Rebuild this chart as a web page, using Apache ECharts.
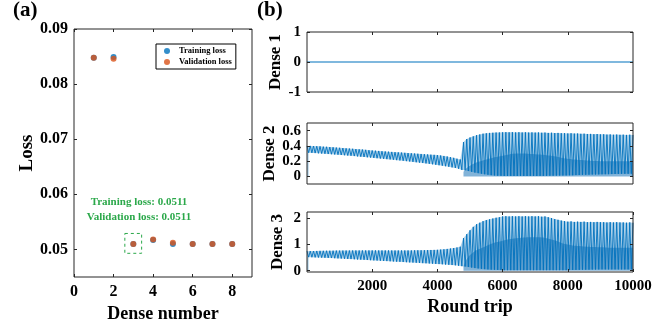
<!DOCTYPE html>
<html>
<head>
<meta charset="utf-8">
<script src="https://cdn.jsdelivr.net/npm/echarts@6/dist/echarts.min.js"></script>
<style>
  html, body { margin: 0; padding: 0; background: #fff; }
  #main { width: 666px; height: 328px; }
</style>
</head>
<body>
<div id="main"></div>
<script>
// (a) loss vs dense number
var denseNumbers = [1, 2, 3, 4, 5, 6, 7, 8];
var trainingLoss = [0.0848, 0.0849, 0.0510, 0.0517, 0.0510, 0.0510, 0.0510, 0.0510];
var validationLoss = [0.0848, 0.0846, 0.0510, 0.0518, 0.0512, 0.0510, 0.0510, 0.0510];
var lossTicks = [0.05, 0.06, 0.07, 0.08, 0.09];
var denseTicks = [0, 2, 4, 6, 8];

// (b) dense outputs vs round trip
var sampleStep = 100; // peak every 100 round trips, trough half way between
var roundTripTicks = [2000, 4000, 6000, 8000, 10000];
var dense1RoundTrips = [0, 10000];
var dense1Values = [0, 0];
var dense1Ticks = [-1, 0, 1];
var dense2Ticks = [0, 0.2, 0.4, 0.6];
var dense3Ticks = [0, 1, 2];

var dense2Peaks = [
  0.40, 0.40, 0.398, 0.396, 0.394, 0.39, 0.388, 0.385, 0.382, 0.378,
  0.375, 0.372, 0.368, 0.365, 0.362, 0.358, 0.355, 0.352, 0.348, 0.344,
  0.34, 0.337, 0.334, 0.33, 0.327, 0.324, 0.321, 0.318, 0.315, 0.312,
  0.309, 0.306, 0.303, 0.30, 0.297, 0.294, 0.291, 0.288, 0.285, 0.282,
  0.279, 0.274, 0.268, 0.261, 0.252, 0.243, 0.232, 0.222, 0.45, 0.49,
  0.51, 0.525, 0.54, 0.55, 0.56, 0.565, 0.57, 0.572, 0.575, 0.576,
  0.578, 0.58, 0.578, 0.58, 0.577, 0.579, 0.576, 0.578, 0.575, 0.577,
  0.574, 0.576, 0.572, 0.574, 0.57, 0.572, 0.568, 0.57, 0.566, 0.567,
  0.563, 0.565, 0.561, 0.562, 0.558, 0.56, 0.556, 0.557, 0.553, 0.555,
  0.551, 0.552, 0.548, 0.55, 0.546, 0.548, 0.545, 0.547, 0.544, 0.546,
  0.543
];
var dense2Troughs = [
  0.31, 0.308, 0.305, 0.302, 0.299, 0.296, 0.293, 0.29, 0.287, 0.284,
  0.28, 0.277, 0.273, 0.27, 0.266, 0.262, 0.258, 0.254, 0.25, 0.246,
  0.242, 0.238, 0.234, 0.23, 0.226, 0.222, 0.218, 0.213, 0.209, 0.204,
  0.20, 0.195, 0.19, 0.185, 0.18, 0.175, 0.17, 0.164, 0.158, 0.152,
  0.146, 0.14, 0.133, 0.126, 0.118, 0.11, 0.10, 0.085, 0.08, 0.07,
  0.06, 0.05, 0.042, 0.035, 0.028, 0.022, 0.016, 0.012, 0.009, 0.007,
  0.005, 0.005, 0.005, 0.005, 0.005, 0.005, 0.005, 0.005, 0.005, 0.005,
  0.005, 0.006, 0.006, 0.007, 0.008, 0.009, 0.01, 0.011, 0.012, 0.013,
  0.014, 0.015, 0.017, 0.018, 0.02, 0.021, 0.022, 0.024, 0.025, 0.026,
  0.027, 0.028, 0.029, 0.03, 0.031, 0.032, 0.033, 0.033, 0.034, 0.035
];
var dense3Peaks = [
  0.75, 0.752, 0.755, 0.757, 0.76, 0.762, 0.764, 0.766, 0.768, 0.77,
  0.77, 0.772, 0.773, 0.774, 0.775, 0.776, 0.776, 0.777, 0.777, 0.778,
  0.778, 0.778, 0.777, 0.777, 0.776, 0.776, 0.776, 0.775, 0.775, 0.776,
  0.776, 0.777, 0.778, 0.78, 0.782, 0.784, 0.787, 0.79, 0.794, 0.798,
  0.80, 0.81, 0.82, 0.835, 0.85, 0.87, 0.89, 0.92, 1.25, 1.40,
  1.55, 1.68, 1.78, 1.84, 1.90, 1.94, 1.97, 2.0, 2.03, 2.05,
  2.08, 2.09, 2.08, 2.09, 2.08, 2.09, 2.08, 2.09, 2.08, 2.09,
  2.08, 2.09, 2.07, 2.08, 2.05, 2.02, 1.98, 1.95, 1.92, 1.90,
  1.88, 1.89, 1.87, 1.88, 1.87, 1.88, 1.86, 1.87, 1.86, 1.87,
  1.86, 1.86, 1.85, 1.86, 1.85, 1.86, 1.85, 1.85, 1.84, 1.85,
  1.84
];
var dense3Troughs = [
  0.52, 0.515, 0.51, 0.505, 0.50, 0.495, 0.49, 0.485, 0.478, 0.472,
  0.465, 0.458, 0.451, 0.444, 0.437, 0.43, 0.423, 0.416, 0.409, 0.402,
  0.395, 0.388, 0.381, 0.374, 0.367, 0.36, 0.353, 0.346, 0.339, 0.332,
  0.325, 0.318, 0.311, 0.304, 0.297, 0.29, 0.283, 0.276, 0.268, 0.26,
  0.252, 0.244, 0.235, 0.226, 0.216, 0.205, 0.19, 0.175, 0.16, 0.14,
  0.12, 0.10, 0.085, 0.07, 0.06, 0.05, 0.04, 0.035, 0.03, 0.025,
  0.02, 0.02, 0.02, 0.02, 0.02, 0.02, 0.02, 0.02, 0.02, 0.02,
  0.02, 0.02, 0.02, 0.02, 0.02, 0.02, 0.02, 0.02, 0.02, 0.02,
  0.025, 0.027, 0.03, 0.032, 0.035, 0.037, 0.04, 0.042, 0.045, 0.047,
  0.05, 0.05, 0.05, 0.05, 0.05, 0.05, 0.05, 0.05, 0.05, 0.05
];
// top of the darker, denser core after the jump
var coreRoundTrips = [4800, 5000, 5500, 6000, 6500, 7000, 7500, 8000, 8500, 9000, 9500, 10000];
var dense2CoreTops = [0.06, 0.14, 0.22, 0.27, 0.30, 0.29, 0.27, 0.23, 0.21, 0.20, 0.20, 0.20];
var dense3CoreTops = [0.15, 0.6, 0.95, 1.15, 1.25, 1.28, 1.2, 1.0, 0.93, 0.9, 0.88, 0.88];

var blue = "#0072BD";
var orange = "#D95319";
var green = "#2BA84A";
var axisColor = "#262626";
var serif = "'Liberation Serif', 'Times New Roman', serif";

function peakPoints(peaks) {
  return peaks.map(function(p, i) { return [i * sampleStep, p]; });
}
function troughPoints(troughs) {
  return troughs.map(function(t, i) { return [i * sampleStep + sampleStep / 2, t]; });
}
function zigzag(peaks, troughs) {
  var out = [];
  for (var i = 0; i < peaks.length; i++) {
    out.push([i * sampleStep, peaks[i]]);
    if (i < troughs.length) out.push([i * sampleStep + sampleStep / 2, troughs[i]]);
  }
  return out;
}
function pairXY(xs, ys) {
  return xs.map(function(x, i) { return [x, ys[i]]; });
}

// one visible axis plus a mirrored one (ticks only) for the MATLAB box look
function xAxes(gridIndex, min, max, ticks, fontSize, labelsOn, name, nameGap) {
  var base = {
    type: "value", gridIndex: gridIndex, min: min, max: max, z: 10,
    splitLine: { show: false }, axisLine: { show: false, onZero: false },
    axisTick: { show: true, inside: true, length: 3, customValues: ticks,
      lineStyle: { color: axisColor } }
  };
  var bottom = Object.assign({}, base, {
    position: "bottom",
    axisLabel: { show: labelsOn, customValues: ticks, margin: 7, color: "#000",
      formatter: function(v) { return String(v); },
      fontFamily: serif, fontWeight: "bold", fontSize: fontSize },
    name: name || "", nameLocation: "middle", nameGap: nameGap || 0,
    nameTextStyle: { fontFamily: serif, fontWeight: "bold", fontSize: 18, color: "#000" }
  });
  var top = Object.assign({}, base, { position: "top", axisLabel: { show: false } });
  return [bottom, top];
}

function yAxes(gridIndex, min, max, ticks, fontSize, fmt, name, nameGap, nameSize) {
  var base = {
    type: "value", gridIndex: gridIndex, min: min, max: max, z: 10,
    splitLine: { show: false }, axisLine: { show: false, onZero: false },
    axisTick: { show: true, inside: true, length: 3, customValues: ticks,
      lineStyle: { color: axisColor } }
  };
  var left = Object.assign({}, base, {
    position: "left",
    axisLabel: { customValues: ticks, margin: 6, color: "#000", formatter: fmt,
      fontFamily: serif, fontWeight: "bold", fontSize: fontSize },
    name: name, nameLocation: "middle", nameGap: nameGap, nameRotate: 90,
    nameTextStyle: { fontFamily: serif, fontWeight: "bold", fontSize: nameSize, color: "#000" }
  });
  var right = Object.assign({}, base, { position: "right", axisLabel: { show: false } });
  return [left, right];
}

// band look for the oscillating traces: light fill between the envelopes,
// darker core, and the zigzag itself on top
function denseSeries(axisIndex, peaks, troughs, coreTops) {
  return [
    {
      type: "line", xAxisIndex: axisIndex, yAxisIndex: axisIndex, showSymbol: false, z: 1,
      lineStyle: { width: 0 }, areaStyle: { color: "rgba(0,114,189,0.45)", origin: 0 },
      data: peakPoints(peaks)
    },
    {
      type: "line", xAxisIndex: axisIndex, yAxisIndex: axisIndex, showSymbol: false, z: 2,
      lineStyle: { width: 0 }, areaStyle: { color: "#fff", opacity: 1, origin: "start" },
      data: troughPoints(troughs)
    },
    {
      type: "line", xAxisIndex: axisIndex, yAxisIndex: axisIndex, showSymbol: false, z: 3,
      smooth: true, lineStyle: { width: 0 }, areaStyle: { color: "rgba(0,100,175,0.7)", origin: 0 },
      data: pairXY(coreRoundTrips, coreTops)
    },
    {
      type: "line", xAxisIndex: axisIndex, yAxisIndex: axisIndex, showSymbol: false, z: 4,
      lineStyle: { color: blue, width: 0.9 },
      data: zigzag(peaks, troughs)
    }
  ];
}

var gridBox = { show: true, z: 10, borderColor: axisColor, borderWidth: 1, backgroundColor: "transparent" };

var myChart = echarts.init(document.getElementById("main"));
var option = {
  animation: false,
  grid: [
    Object.assign({ left: 74, top: 29, width: 178, height: 248 }, gridBox),
    Object.assign({ left: 307, top: 32, width: 326, height: 60 }, gridBox),
    Object.assign({ left: 307, top: 123, width: 326, height: 61 }, gridBox),
    Object.assign({ left: 307, top: 212, width: 326, height: 60 }, gridBox)
  ],
  xAxis: [].concat(
    xAxes(0, 0, 9, denseTicks, 16, true, "Dense number", 27),
    xAxes(1, 0, 10000, [2000, 4000, 6000, 8000], 15, false),
    xAxes(2, 0, 10000, [2000, 4000, 6000, 8000], 15, false),
    xAxes(3, 0, 10000, roundTripTicks, 15, true, "Round trip", 26)
  ),
  yAxis: [].concat(
    yAxes(0, 0.045, 0.09, lossTicks, 16, function(v) { return v.toFixed(2); }, "Loss", 31, 19),
    yAxes(1, -1, 1, dense1Ticks, 15, null, "Dense 1", 21, 17),
    yAxes(2, -0.1, 0.7, dense2Ticks, 15, function(v) { return v === 0 ? "0" : v.toFixed(1); }, "Dense 2", 21, 17),
    yAxes(3, -0.05, 2.25, dense3Ticks, 15, null, "Dense 3", 21, 17)
  ),
  legend: {
    data: ["Training loss", "Validation loss"],
    orient: "vertical",
    left: 156, top: 44,
    icon: "circle",
    itemWidth: 6, itemHeight: 6, itemGap: 1,
    padding: [2, 4, 2, 8],
    borderColor: "#000", borderWidth: 1, backgroundColor: "#fff",
    textStyle: { fontFamily: serif, fontWeight: "bold", fontSize: 8.5, color: "#000",
      padding: [0, 0, 0, 4], lineHeight: 10 }
  },
  graphic: [
    { type: "text", left: 13, top: 0, style: { text: "(a)", font: "bold 21px " + serif, fill: "#000" } },
    { type: "text", left: 257, top: 0, style: { text: "(b)", font: "bold 21px " + serif, fill: "#000" } },
    { type: "text", x: 139, y: 202, style: { text: "Training loss: 0.0511", font: "bold 11px " + serif,
      fill: green, textAlign: "center", textVerticalAlign: "middle" } },
    { type: "text", x: 139, y: 217, style: { text: "Validation loss: 0.0511", font: "bold 11px " + serif,
      fill: green, textAlign: "center", textVerticalAlign: "middle" } }
  ],
  series: [
    {
      name: "Training loss", type: "scatter", xAxisIndex: 0, yAxisIndex: 0,
      symbolSize: 6, itemStyle: { color: blue },
      data: pairXY(denseNumbers, trainingLoss)
    },
    {
      name: "Validation loss", type: "scatter", xAxisIndex: 0, yAxisIndex: 0,
      symbolSize: 6, itemStyle: { color: orange },
      data: pairXY(denseNumbers, validationLoss),
      markArea: {
        silent: true,
        itemStyle: { color: "transparent", borderColor: green, borderWidth: 1, borderType: [3, 3] },
        data: [[{ coord: [2.57, 0.0529] }, { coord: [3.42, 0.0493] }]]
      }
    },
    {
      type: "line", xAxisIndex: 2, yAxisIndex: 2, showSymbol: false,
      lineStyle: { color: blue, width: 1.2 },
      data: pairXY(dense1RoundTrips, dense1Values)
    }
  ].concat(
    denseSeries(4, dense2Peaks, dense2Troughs, dense2CoreTops),
    denseSeries(6, dense3Peaks, dense3Troughs, dense3CoreTops)
  )
};
myChart.setOption(option);
window.addEventListener("resize", function() {
  myChart.resize();
});
</script>
</body>
</html>
